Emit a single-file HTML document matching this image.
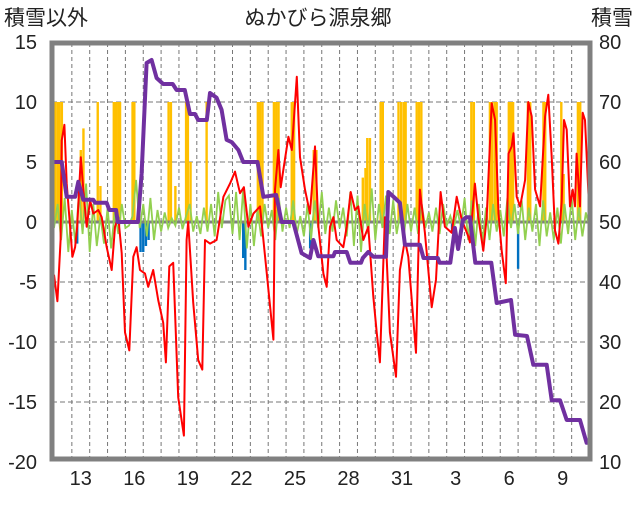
<!DOCTYPE html>
<html><head><meta charset="utf-8">
<style>
body{margin:0;background:#fff;width:636px;height:501px;overflow:hidden;font-family:"Liberation Sans","Noto Sans CJK JP",sans-serif;}
svg text{font-family:"Liberation Sans","Noto Sans CJK JP",sans-serif;fill:#222;}
</style></head><body>
<svg id="chart" width="636" height="501" xmlns="http://www.w3.org/2000/svg">
<text x="4" y="25" font-size="21">積雪以外</text>
<text x="318" y="25" font-size="21" text-anchor="middle">ぬかびら源泉郷</text>
<text x="633" y="25" font-size="21" text-anchor="end">積雪</text>
<g id="grid"></g>
<g id="marks"></g>
<rect x="52" y="43" width="538" height="416" fill="none" stroke="#808080" stroke-width="5"/>
<g id="labels"></g>
</svg>
<script>
const leftTicks=[15,10,5,0,-5,-10,-15,-20];
const rightTicks=[80,70,60,50,40,30,20,10];
const xTickDays=[1.5,4.5,7.5,10.5,13.5,16.5,19.5,22.5,25.5,28.5];
const xTickLabels=["13","16","19","22","25","28","31","3","6","9"];
const tempT=[0,.19,.37,.43,.58,.71,.9,1.03,1.18,1.3,1.5,1.64,1.83,2.02,2.2,2.48,2.67,2.95,3.23,3.42,3.6,3.79,3.98,4.22,4.44,4.63,4.82,5.1,5.28,5.56,5.84,6.12,6.27,6.46,6.68,6.96,7.28,7.43,7.52,7.8,8.08,8.31,8.46,8.74,9.11,9.49,9.86,10.14,10.42,10.64,10.89,11.17,11.54,11.92,12.29,12.38,12.57,12.7,13.13,13.32,13.6,13.78,14.06,14.34,14.62,14.81,15.09,15.28,15.46,15.65,15.84,16.21,16.4,16.62,16.86,17.05,17.33,17.61,17.89,18.08,18.26,18.54,18.82,19.16,19.38,19.66,19.85,20.28,20.5,20.78,21.16,21.4,21.66,21.9,22.28,22.56,22.84,23.21,23.3,23.58,23.77,24.05,24.24,24.52,24.71,24.9,25.08,25.31,25.46,25.64,25.74,25.92,26.11,26.39,26.57,26.76,26.95,27.23,27.51,27.69,27.88,28.07,28.26,28.44,28.57,28.72,28.91,29.06,29.19,29.28,29.47,29.62,29.75,29.94,30.07];
const tempV=[-4.4,-6.6,-1.5,6.8,8.1,3.2,-0.4,-2.9,-2.1,-0.4,5.4,2.7,-0.4,1.8,0.7,1,0.4,-2.1,-4,-0.4,0.4,-2.6,-9.2,-10.7,-2.9,-2.1,-4,-4.3,-5.4,-4,-6.5,-8.4,-11.7,-3.7,-3.4,-14.6,-17.8,-1.5,0,-6.7,-11.5,-12.3,-1.5,-1.8,-1.5,2.1,3.2,4.2,2.4,2.9,-0.4,0.7,1.3,-4.3,-9.8,2.7,6,2.9,7.1,6,12.1,5.4,2.7,0.7,6.3,-0.4,-4.3,-5.4,-0.4,0.4,-1.5,-2.1,-0.4,2.5,1,1.3,-1.5,-0.4,-6.2,-9.2,-11.7,0.4,-9.2,-12.9,-4,-1.5,-2.9,-10.9,2.7,-0.9,-7.1,-4.8,2.5,-0.4,-0.9,2.1,0.2,-1.2,-1.7,3.2,0.4,-2.4,0.4,9.9,8.5,0.7,-2.4,-5.1,5.7,6.3,7.4,2.1,1.3,3.5,10,8.8,2.7,1.3,8.8,10.6,5.4,-0.7,-1.8,1.7,8.5,7.7,1.3,2.7,1.3,5.7,1.3,9.1,8.5,2.4,-0.3];
const snowT=[0,.43,.71,1.18,1.36,1.64,2.2,2.3,2.95,3.1,3.48,3.57,4.7,4.91,5.19,5.47,5.75,6.12,6.65,6.87,7.33,7.62,7.9,8.08,8.56,8.74,9.11,9.39,9.67,9.96,10.33,10.6,11.4,11.73,12.45,12.75,13.4,13.87,14.34,14.53,14.8,15.65,15.74,16.4,16.6,17.2,17.3,17.6,17.9,18.6,18.73,19.1,19.38,19.66,20.5,20.7,21.5,21.6,22.2,22.46,22.64,22.9,23.1,23.3,23.6,24.5,24.8,25.6,25.83,26.5,26.85,27.6,27.88,28.35,28.72,29.47,29.84,30.07];
const snowV=[60,60,54.2,54.2,56.7,53.7,53.7,53.2,53.2,52,52,50,50,58,76.5,77,74,73,73,72,72,68,68,67,67,71.5,70.7,68.7,63.7,63.3,62,60,60,54.2,54.5,50,50,44.8,44,47,44.3,44.3,45,45,43.2,43.2,44,45,44.2,44.2,55,54,53.2,46.2,46.2,44,44,43.2,43.2,49,45.5,50.3,50.8,50.8,43.2,43.2,36.5,37,31.2,31,26.2,26.2,20.3,20.3,17,17,13.2,13.2];
const windV=[-0.5,1.5,-1.5,2,-2.5,1,-1.8,2.5,-1,3.2,-2.5,
1.5,-2,0.5,-1.8,1.2,-2.2,0.8,-1,1.5,-0.5,
-0.3,0.5,3.5,-0.5,1.5,-1.2,2,-1.5,1,-0.8,
0.8,-0.5,0.3,-0.3,1.2,-0.6,0.5,1.5,-0.8,0.5,
-1,1.2,-0.8,1.5,-1.2,2.5,-0.5,1.8,2.2,-1,
2.5,-1.5,2.8,-2.2,1.5,-2,1,-1.2,1.5,-0.5,
1,-1.5,2,-0.8,1.2,-0.5,1.8,-1,0.5,-1.2,
1.5,-1.5,1.8,-0.5,2.5,-1,1.2,-0.8,1.8,-0.5,
1.2,-1.2,2.5,-2,2.2,-2.5,1.5,-1,2.8,-1.5,
1.5,-0.5,2.2,-1,1.8,-1,0.8,-1.2,1.5,-0.8,
1.2,-1,1.5,-0.5,0.8,-0.8,1.2,-1,1.5,-0.3,
0.5,-0.5,1,-0.5,2,-1.5,1.8,-2,1.5,-1.8,
1.2,-1.5,1.5,-0.8,1,-1.2,2,-0.5,1.5,-1,
1.8,-1.5,1.2,-0.8,1.5,-2,1.8,-1.2,0.8,-1.5,
1.2,-1.8,1.5,-1,2,-1.5,1.2,-1.2,0.8,-0.5];
const windStep=0.2;
const precipT=[0.06,0.19,0.31,0.44,1.5,1.65,2.45,2.6,3.35,3.48,3.6,3.7,4.4,4.5,6.42,6.55,6.8,7.4,7.5,7.65,8.55,11.42,11.55,11.68,12.32,12.45,12.58,13.32,13.45,14.55,14.7,17.3,17.45,17.55,17.7,18.3,18.42,19.3,19.45,19.6,19.7,20.32,20.45,20.58,23.38,23.52,24.42,24.55,24.7,24.8,25.48,25.6,25.72,26.55,26.68,27.42,27.52,28.42,28.55,29.35,29.48];
const precipV=[10,10,10,10,6,7.8,10,3,10,10,10,10,10,10,10,10,3,10,10,5,10,10,10,10,10,10,10,10,10,6,6,3.7,4.5,7,7,10,10,10,10,10,10,10,10,10,10,10,10,10,10,10,10,10,10,10,10,10,10,10,4,10,10];
const meltT=[1.3,4.85,5.0,5.15,5.3,10.6,10.72,14.35,18.6,22.3,26.0];
const meltV=[-1.8,-2.5,-2.5,-2,-1.5,-3,-4,-2.2,-3,-0.8,-3.9];

const NS='http://www.w3.org/2000/svg';
const X0=54,PXD=17.85;
const xs=t=>X0+t*PXD;
const yl=v=>222-v*12;
const yr=v=>222-(v-50)*6;
function mk(tag,attrs,parent){const e=document.createElementNS(NS,tag);for(const k in attrs)e.setAttribute(k,attrs[k]);parent.appendChild(e);return e;}
const grid=document.getElementById('grid'),marks=document.getElementById('marks'),labels=document.getElementById('labels');
for(let d=1;d<30;d++){const l=mk('line',{x1:xs(d),x2:xs(d),y1:43,y2:459,stroke:'#777','stroke-width':1,'stroke-dasharray':'4,3'},grid);

}
leftTicks.forEach(v=>{if(v!==0&&v!==15&&v!==-20){const l=mk('line',{x1:52,x2:590,y1:yl(v),y2:yl(v),stroke:'#777','stroke-width':1,'stroke-dasharray':'5,3'},grid);

}
const t=mk('text',{x:37,y:yl(v)+7,'font-size':20,'text-anchor':'end'},labels);t.textContent=v;

});
rightTicks.forEach(v=>{const t=mk('text',{x:599,y:yr(v)+7,'font-size':20},labels);t.textContent=v;

});
xTickDays.forEach((d,i)=>{const t=mk('text',{x:xs(d),y:485,'font-size':20,'text-anchor':'middle'},labels);t.textContent=xTickLabels[i];

});
precipT.forEach((t,i)=>{const v=Math.min(10,precipV[i]);const r=mk('rect',{x:xs(t)-1.2,y:yl(v),width:2.4,height:yl(0)-yl(v),fill:'#ffc000'},marks);

});
meltT.forEach((t,i)=>{const r=mk('rect',{x:xs(t)-1.2,y:yl(0),width:2.4,height:yl(meltV[i])-yl(0),fill:'#0070c0'},marks);

});
const z=mk('line',{x1:52,x2:590,y1:yl(0),y2:yl(0),stroke:'#808080','stroke-width':3},marks);


const gp=windV.map((v,i)=>xs(i*windStep).toFixed(1)+','+yl(v).toFixed(1)).join(' ');
const g=mk('polyline',{points:gp,fill:'none',stroke:'#92d050','stroke-width':1.8},marks);


const rp=tempT.map((t,i)=>xs(t).toFixed(1)+','+yl(tempV[i]).toFixed(1)).join(' ');
const rl=mk('polyline',{points:rp,fill:'none',stroke:'#ff0000','stroke-width':2,'stroke-linejoin':'round'},marks);


const pp=snowT.map((t,i)=>xs(t).toFixed(1)+','+yr(snowV[i]).toFixed(1)).join(' ');
const pl=mk('polyline',{points:pp,fill:'none',stroke:'#7030a0','stroke-width':4,'stroke-linejoin':'round'},marks);


</script>
</body></html>
